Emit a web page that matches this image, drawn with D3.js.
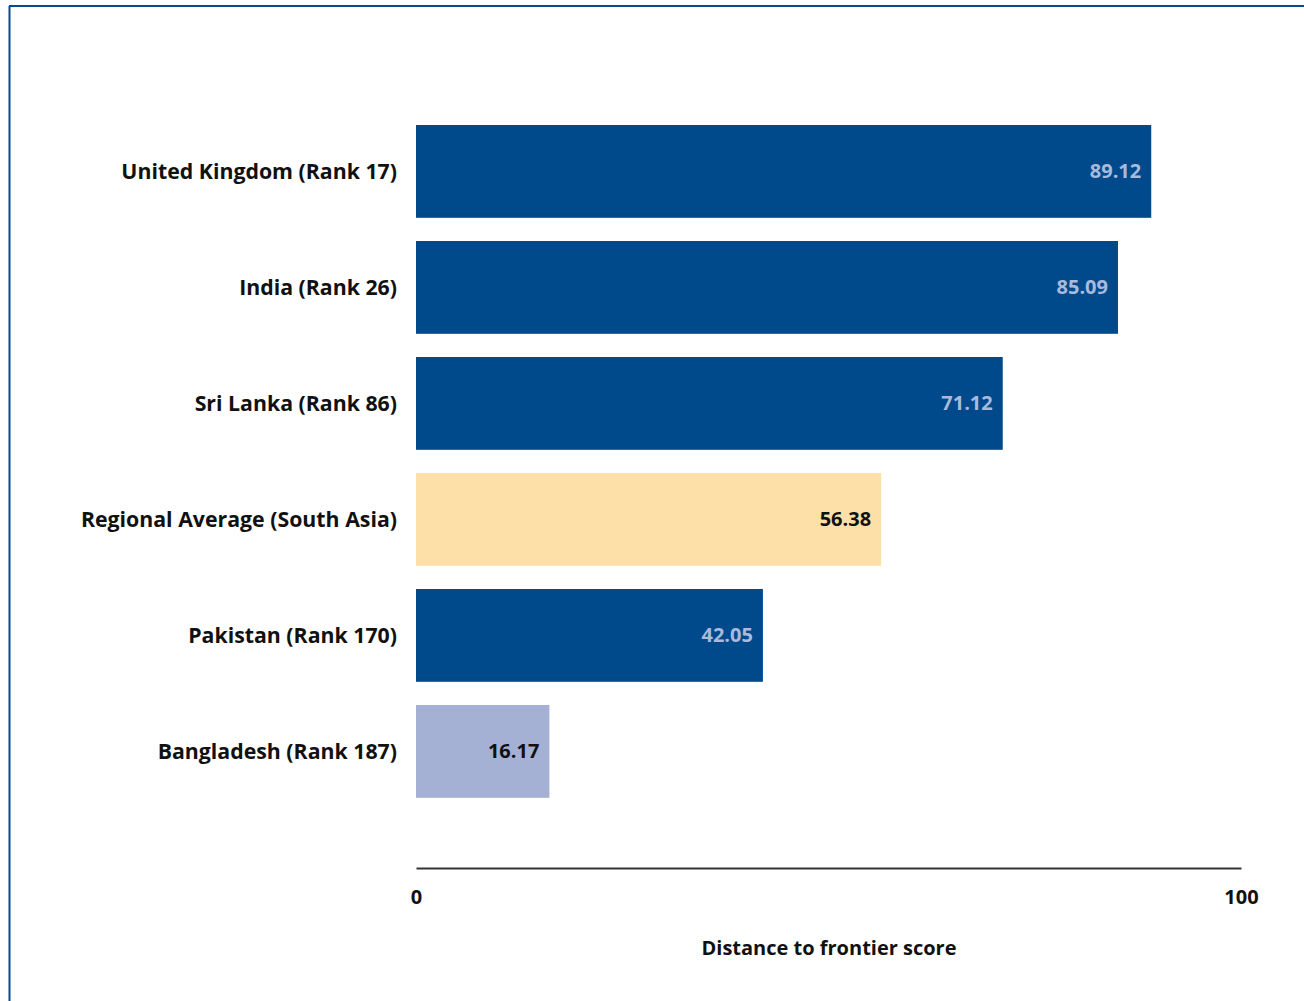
<!DOCTYPE html>
<html>
<head>
<meta charset="utf-8">
<script src="https://cdn.jsdelivr.net/npm/d3@7"></script>
<style>
  html, body { margin: 0; padding: 0; background: #fff; }
  svg { display: block; }
  text { font-family: "Open Sans", "DejaVu Sans", sans-serif; }
</style>
</head>
<body>
<svg id="chart" width="1304" height="1001"></svg>
<script>
const categories = [
  "United Kingdom (Rank 17)",
  "India (Rank 26)",
  "Sri Lanka (Rank 86)",
  "Regional Average (South Asia)",
  "Pakistan (Rank 170)",
  "Bangladesh (Rank 187)"
];
const values = [89.12, 85.09, 71.12, 56.38, 42.05, 16.17];
const barKinds = ["country", "country", "country", "average", "country", "lowest"];
const tickValues = [0, 100];
const axisTitle = "Distance to frontier score";

const fills = { country: "#004a8c", average: "#fddfa8", lowest: "#a4b0d4" };
const labelFills = { country: "#a9bbdc", average: "#111111", lowest: "#111111" };

const svg = d3.select("#chart");

// frame
svg.append("line").attr("x1", 9).attr("x2", 1304).attr("y1", 6).attr("y2", 6)
  .attr("stroke", "#0a4a8c").attr("stroke-width", 2);
svg.append("line").attr("x1", 9.5).attr("x2", 9.5).attr("y1", 6).attr("y2", 1001)
  .attr("stroke", "#0a4a8c").attr("stroke-width", 2);

const x = d3.scaleLinear().domain([0, 100]).range([416, 1241]);
const y = d3.scaleBand().domain(categories).range([113.4, 809.4])
  .paddingInner(0.2).paddingOuter(0.1);

const data = categories.map((c, i) => ({ c, v: values[i], k: barKinds[i] }));

svg.append("g").selectAll("rect").data(data).join("rect")
  .attr("x", x(0))
  .attr("y", d => y(d.c))
  .attr("width", d => x(d.v) - x(0))
  .attr("height", y.bandwidth())
  .attr("fill", d => fills[d.k]);

svg.append("g").selectAll("text").data(data).join("text")
  .attr("x", d => x(d.v) - 10)
  .attr("y", d => y(d.c) + y.bandwidth() / 2)
  .attr("dy", "0.35em")
  .attr("text-anchor", "end")
  .attr("font-size", 20)
  .attr("font-weight", 700)
  .attr("fill", d => labelFills[d.k])
  .text(d => d.v.toFixed(2));

// category labels
svg.append("g").selectAll("text").data(data).join("text")
  .attr("x", 397)
  .attr("y", d => y(d.c) + y.bandwidth() / 2)
  .attr("dy", "0.35em")
  .attr("text-anchor", "end")
  .attr("font-size", 21.3)
  .attr("font-weight", 700)
  .attr("fill", "#111")
  .text(d => d.c);

// x axis
const axis = d3.axisBottom(x).tickValues(tickValues).tickSize(0).tickPadding(22)
  .tickFormat(d3.format("d"));
const gx = svg.append("g").attr("transform", "translate(0,868)").call(axis);
gx.select(".domain").attr("stroke", "#333").attr("stroke-width", 2);
gx.selectAll(".tick text")
  .attr("font-size", 20).attr("font-weight", 700).attr("fill", "#111")
  .attr("font-family", "'Open Sans', sans-serif");

svg.append("text")
  .attr("x", 829).attr("y", 948).attr("dy", "0.35em")
  .attr("text-anchor", "middle")
  .attr("font-size", 20).attr("font-weight", 700).attr("fill", "#111")
  .text(axisTitle);
</script>
</body>
</html>
